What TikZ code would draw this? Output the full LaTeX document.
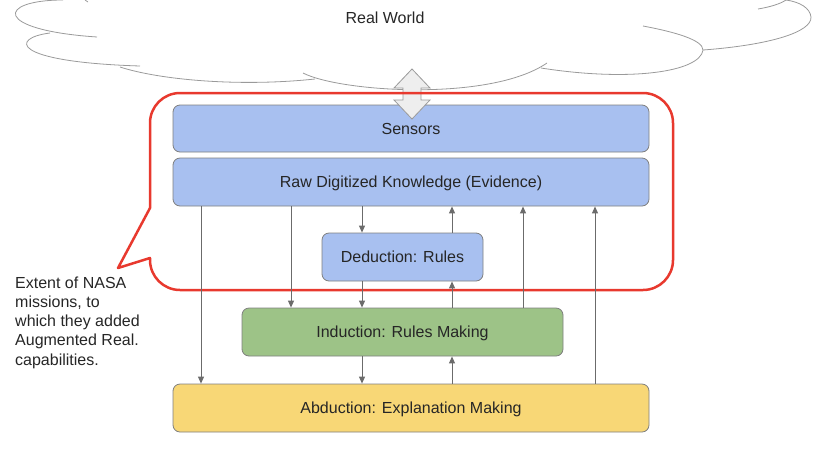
\documentclass[tikz,border=0pt]{standalone}
\usepackage{fontspec}
\setmainfont{Liberation Sans}
\usetikzlibrary{arrows.meta}
\definecolor{boxblue}{HTML}{A8C0F0}
\definecolor{boxgreen}{HTML}{9DC387}
\definecolor{boxyellow}{HTML}{F8D776}
\definecolor{boxline}{HTML}{7F7F7F}
\definecolor{arrgray}{HTML}{6B6B6B}
\definecolor{cloudgray}{HTML}{9A9A9A}
\definecolor{calloutred}{HTML}{E8392E}
\definecolor{dblfill}{HTML}{EEEEEE}
\tikzset{
  lbl/.style={font=\fontsize{16}{19.3}\selectfont, text=black!85},
  stagebox/.style={lbl, draw=boxline, line width=0.8pt, rounded corners=7pt,
    inner sep=0pt, text height=11.5pt, text depth=0pt},
  arr/.style={draw=arrgray, line width=0.9pt, -{Triangle[length=7pt,width=6pt]}},
  cloudline/.style={draw=cloudgray, line width=0.8pt},
  callout/.style={draw=calloutred, line width=2.5pt, line join=round},
}
\begin{document}
\begin{tikzpicture}[x=1pt,y=1pt]
\useasboundingbox (0,0) rectangle (813,-448);
\clip (0,0) rectangle (813,-448);
% cloud
\draw[cloudline] (63,0) .. controls (-3,0) and (-8,-30) .. (97,-37);
\draw[cloudline] (50,-33) .. controls (10,-38) and (10,-62) .. (140,-66);
\draw[cloudline] (120,-67) .. controls (160,-80) and (240,-87) .. (315,-79);
\draw[cloudline] (303,-73) .. controls (340,-92) and (490,-102) .. (547,-63);
\draw[cloudline] (643,-26) .. controls (675,-32) and (703,-40) .. (703,-50)
   .. controls (700,-72) and (630,-82) .. (541,-68);
\draw[cloudline] (703,-50) .. controls (770,-45) and (812,-32) .. (811,-17)
   .. controls (810,-8) and (800,-2) .. (786,0);
\draw[cloudline] (758,-9) .. controls (770,-7) and (780,-4) .. (786,0);
\draw[cloudline] (85,0) -- (88,-2);
\node[lbl] (world) at (385,-18) {Real World};
% boxes
\node[stagebox, fill=boxblue, minimum width=476pt, minimum height=47pt] (sensors) at (411,-128.5) {Sensors};
\node[stagebox, fill=boxblue, minimum width=476pt, minimum height=48pt] (raw) at (411,-182) {Raw Digitized Knowledge (Evidence)};
\node[stagebox, fill=boxblue, minimum width=161pt, minimum height=48pt] (ded) at (402.5,-257) {Deduction: Rules};
\node[stagebox, fill=boxgreen, minimum width=321pt, minimum height=48pt] (ind) at (402.5,-332) {Induction: Rules Making};
\node[stagebox, fill=boxyellow, minimum width=476pt, minimum height=48pt] (abd) at (411,-408) {Abduction: Explanation Making};
% double arrow
\draw[draw=cloudgray, fill=dblfill, line width=0.8pt, line join=miter]
  (412,-69) -- (430,-88) -- (421,-88) -- (421,-100) -- (430,-100) -- (412,-119)
  -- (394,-100) -- (403,-100) -- (403,-88) -- (394,-88) -- cycle;
% callout
\draw[callout] (180,-93) -- (643,-93) arc[start angle=90,end angle=0,radius=30]
  -- (673,-260) arc[start angle=0,end angle=-90,radius=30]
  -- (180,-290) arc[start angle=270,end angle=180,radius=30]
  -- (150,-258) -- (118,-268) -- (150,-208) -- (150,-123)
  arc[start angle=180,end angle=90,radius=30] -- cycle;
\node[lbl, align=left, anchor=north west, inner sep=0pt] (note) at (15,-276.3)
  {Extent of NASA\\missions, to\\which they added\\Augmented Real.\\capabilities.};
% connectors
\coordinate (xa) at (201,0);
\coordinate (xb) at (291,0);
\coordinate (xc) at (362,0);
\coordinate (xd) at (452,0);
\coordinate (xe) at (523,0);
\coordinate (xf) at (595,0);
\draw[arr] (raw.south -| xa) -- (abd.north -| xa);
\draw[arr] (raw.south -| xb) -- (ind.north -| xb);
\draw[arr] (raw.south -| xc) -- (ded.north -| xc);
\draw[arr] (ded.south -| xc) -- (ind.north -| xc);
\draw[arr] (ind.south -| xc) -- (abd.north -| xc);
\draw[arr] (ded.north -| xd) -- (raw.south -| xd);
\draw[arr] (ind.north -| xd) -- (ded.south -| xd);
\draw[arr] (abd.north -| xd) -- (ind.south -| xd);
\draw[arr] (ind.north -| xe) -- (raw.south -| xe);
\draw[arr] (abd.north -| xf) -- (raw.south -| xf);
\end{tikzpicture}
\end{document}
